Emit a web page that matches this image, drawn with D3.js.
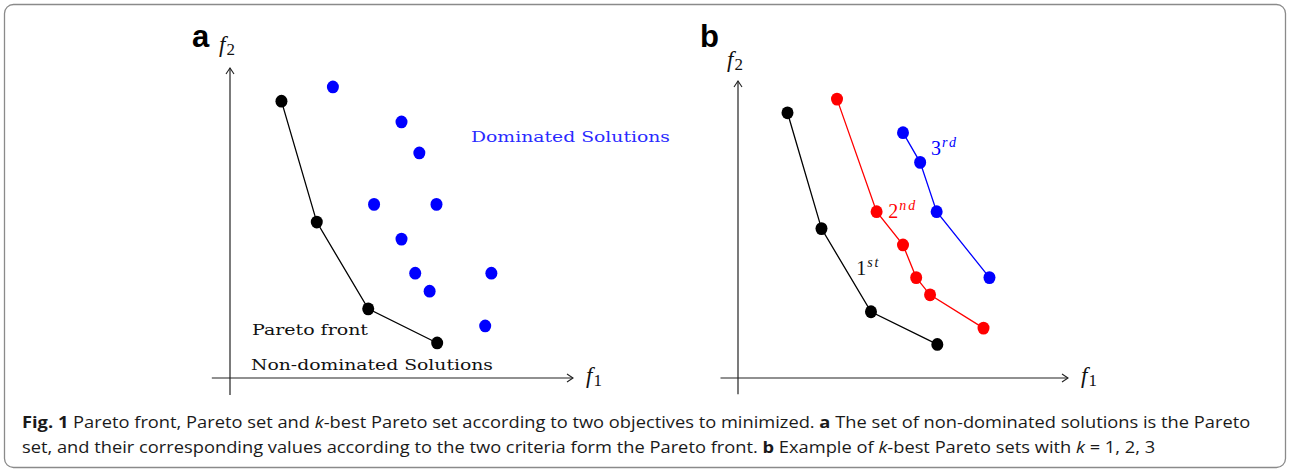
<!DOCTYPE html>
<html>
<head>
<meta charset="utf-8">
<script src="https://cdn.jsdelivr.net/npm/d3@7"></script>
<style>
  body { margin: 0; background: #fff; }
  svg { display: block; }
</style>
</head>
<body>
<div id="chart"></div>
<script>
// k-best Pareto fronts, values in (f1, f2) units
const front1 = [[1.5, 8.93], [2.53, 5.03], [4.03, 2.23], [6.04, 1.13]];
const front2 = [[3.0, 9.39], [4.2, 5.6], [5.0, 4.48], [5.4, 3.38], [5.82, 2.8], [7.44, 1.68]];
const front3 = [[5.0, 8.26], [5.52, 7.26], [6.02, 5.6], [7.62, 3.38]];
const dominated = front2.concat(front3);

const panelLetters = ["a", "b"];
const frontColors = ["#000", "#ff0000", "#0000ff"];
const frontLabels = [["1", "st"], ["2", "nd"], ["3", "rd"]];

const captionLine1 = [
  {t: "Fig. 1", w: "bold"},
  {t: " Pareto front, Pareto set and "},
  {t: "k", s: "italic"},
  {t: "-best Pareto set according to two objectives to minimized. "},
  {t: "a", w: "bold"},
  {t: " The set of non-dominated solutions is the Pareto"}
];
const captionLine2 = [
  {t: "set, and their corresponding values according to the two criteria form the Pareto front. "},
  {t: "b", w: "bold"},
  {t: " Example of "},
  {t: "k", s: "italic"},
  {t: "-best Pareto sets with "},
  {t: "k", s: "italic"},
  {t: " = 1, 2, 3"}
];

const W = 1289, H = 474;
const svg = d3.select("#chart").append("svg")
  .attr("width", W).attr("height", H);

// figure frame
svg.append("rect")
  .attr("x", 4.5).attr("y", 4.5)
  .attr("width", W - 8).attr("height", 463)
  .attr("rx", 9)
  .attr("fill", "none")
  .attr("stroke", "#8a8a8a")
  .attr("stroke-width", 1.3);

svg.append("defs").append("marker")
  .attr("id", "arrow")
  .attr("viewBox", "0 0 10 10")
  .attr("refX", 9).attr("refY", 5)
  .attr("markerWidth", 10).attr("markerHeight", 10)
  .attr("markerUnits", "userSpaceOnUse")
  .attr("orient", "auto")
  .append("path")
  .attr("d", "M3,1 L9,5 L3,9")
  .attr("fill", "none")
  .attr("stroke", "#222")
  .attr("stroke-width", 1.1);

const mathFont = "'Liberation Serif', 'DejaVu Serif', serif";
const textFont = "'DejaVu Serif', serif";

function fLabel(g, x, y, sub) {
  const t = g.append("text")
    .attr("x", x).attr("y", y)
    .attr("font-family", mathFont).attr("font-size", 23)
    .attr("fill", "#111");
  t.append("tspan").attr("font-style", "italic").text("f");
  t.append("tspan").attr("font-size", 17).attr("dx", 1).attr("dy", 3).text(sub);
}

function drawAxes(g, x, y, lx, ly) {
  g.append("line")
    .attr("x1", x(-0.53)).attr("x2", x(10))
    .attr("y1", y(0)).attr("y2", y(0))
    .attr("stroke", "#222").attr("stroke-width", 1.2)
    .attr("marker-end", "url(#arrow)");
  g.append("line")
    .attr("x1", x(0)).attr("x2", x(0))
    .attr("y1", y(-0.55)).attr("y2", y(10))
    .attr("stroke", "#222").attr("stroke-width", 1.2)
    .attr("marker-end", "url(#arrow)");
  fLabel(g, x(10) + 13, y(0) + 5, "1");
  fLabel(g, lx, ly, "2");
}

function drawFront(g, x, y, pts, color, withLine) {
  if (withLine) {
    g.append("path")
      .datum(pts)
      .attr("d", d3.line().x(d => x(d[0])).y(d => y(d[1])))
      .attr("fill", "none")
      .attr("stroke", color)
      .attr("stroke-width", 1.3);
  }
  g.selectAll(null)
    .data(pts)
    .enter()
    .append("ellipse")
    .attr("cx", d => x(d[0]))
    .attr("cy", d => y(d[1]))
    .attr("rx", 6).attr("ry", 6.4)
    .attr("fill", color);
}

// ---- panel a ----
const xa = d3.scaleLinear().domain([0, 10]).range([230, 573]);
const ya = d3.scaleLinear().domain([0, 10]).range([378, 68]);
const ga = svg.append("g");
drawAxes(ga, xa, ya, 219, 52);
svg.append("text")
  .attr("x", 192).attr("y", 47)
  .attr("font-family", "'Liberation Sans', Arial, sans-serif")
  .attr("font-weight", "bold").attr("font-size", 31)
  .text(panelLetters[0]);

drawFront(ga, xa, ya, front1, "#000", true);
drawFront(ga, xa, ya, dominated, "#0000ff", false);

ga.append("text")
  .attr("x", 471).attr("y", 142)
  .attr("font-family", textFont).attr("font-size", 15)
  .attr("fill", "#2a2aff")
  .attr("textLength", 199).attr("lengthAdjust", "spacingAndGlyphs")
  .text("Dominated Solutions");
ga.append("text")
  .attr("x", 252).attr("y", 335)
  .attr("font-family", textFont).attr("font-size", 15)
  .attr("fill", "#111")
  .attr("textLength", 116).attr("lengthAdjust", "spacingAndGlyphs")
  .text("Pareto front");
ga.append("text")
  .attr("x", 251).attr("y", 370)
  .attr("font-family", textFont).attr("font-size", 15)
  .attr("fill", "#111")
  .attr("textLength", 242).attr("lengthAdjust", "spacingAndGlyphs")
  .text("Non-dominated Solutions");

// ---- panel b ----
const xb = d3.scaleLinear().domain([0, 10]).range([738, 1068]);
const yb = d3.scaleLinear().domain([0, 10]).range([378, 81]);
const gb = svg.append("g");
drawAxes(gb, xb, yb, 727, 67);
svg.append("text")
  .attr("x", 700).attr("y", 47)
  .attr("font-family", "'Liberation Sans', Arial, sans-serif")
  .attr("font-weight", "bold").attr("font-size", 31)
  .text(panelLetters[1]);

const fronts = [front1, front2, front3];
fronts.forEach((f, i) => drawFront(gb, xb, yb, f, frontColors[i], true));

// rank labels, anchored next to a point of each front
const labelAnchors = [[front1, 1, 1.05, -1.55], [front2, 1, 0.35, -0.2], [front3, 0, 0.85, -0.75]];
labelAnchors.forEach(([f, idx, dx, dy], i) => {
  const t = gb.append("text")
    .attr("x", xb(f[idx][0] + dx))
    .attr("y", yb(f[idx][1] + dy))
    .attr("font-family", mathFont).attr("font-size", 20)
    .attr("fill", frontColors[i] === "#000" ? "#111" : frontColors[i]);
  t.append("tspan").text(frontLabels[i][0]);
  t.append("tspan").attr("font-size", 14).attr("font-style", "italic")
    .attr("dy", -8).attr("dx", 1).attr("letter-spacing", 2).text(frontLabels[i][1]);
});

// ---- caption ----
// glyphs squeezed horizontally to mimic the narrow caption face
function caption(parts, yPos) {
  const g = svg.append("g").attr("transform", `translate(22,${yPos})`);
  const t = g.append("text")
    .attr("font-family", "'Open Sans', 'Noto Sans', sans-serif")
    .attr("font-size", 16)
    .attr("fill", "#1a1a1a");
  parts.forEach(p => {
    t.append("tspan")
      .attr("font-weight", p.w || null)
      .attr("font-style", p.s || null)
      .text(p.t);
  });
  return {g, t, w: t.node().getComputedTextLength()};
}
const c1 = caption(captionLine1, 428);
const c2 = caption(captionLine2, 453);
const squeeze = 1229 / c1.w;
c1.g.attr("transform", `translate(22,428) scale(${squeeze},1)`);
c2.g.attr("transform", `translate(22,453) scale(${squeeze},1)`);
</script>
</body>
</html>
